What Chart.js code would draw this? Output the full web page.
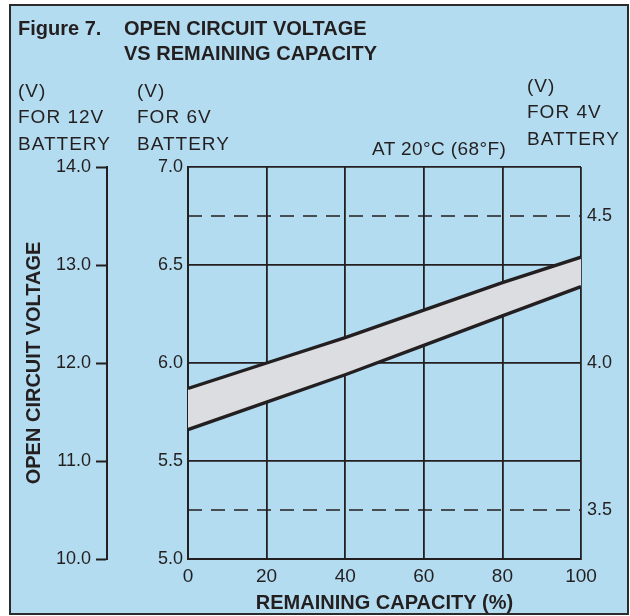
<!DOCTYPE html>
<html>
<head>
<meta charset="utf-8">
<script src="https://cdn.jsdelivr.net/npm/chart.js@4.4.0/dist/chart.umd.min.js"></script>
<style>
  body { margin: 0; background: #fff; }
  #frame {
    position: absolute; left: 9px; top: 4px; width: 620px; height: 611px;
    box-sizing: border-box; border: 2px solid #2b2b2b; background: #b3dcf0;
  }
  #chart { position: absolute; left: 0; top: 0; }
  .t {
    position: absolute; white-space: nowrap; color: #231f20;
    font-family: "Liberation Sans", Arial, sans-serif; line-height: 1;
  }
  .hd { font-size: 20px; font-weight: bold; }
  .lb { font-size: 19px; letter-spacing: 1px; }
</style>
</head>
<body>
<div id="frame"></div>
<canvas id="chart" width="630" height="616"></canvas>

<div class="t hd" style="left:18px; top:18px;">Figure 7.</div>
<div class="t hd" style="left:124px; top:18px;">OPEN CIRCUIT VOLTAGE</div>
<div class="t hd" style="left:124px; top:43px;">VS REMAINING CAPACITY</div>

<div class="t lb" style="left:18px; top:81px;">(V)</div>
<div class="t lb" style="left:18px; top:107px;">FOR 12V</div>
<div class="t lb" style="left:18px; top:134px;">BATTERY</div>

<div class="t lb" style="left:137px; top:81px;">(V)</div>
<div class="t lb" style="left:137px; top:107px;">FOR 6V</div>
<div class="t lb" style="left:137px; top:134px;">BATTERY</div>

<div class="t lb" style="left:527px; top:76px;">(V)</div>
<div class="t lb" style="left:527px; top:102px;">FOR 4V</div>
<div class="t lb" style="left:527px; top:129px;">BATTERY</div>

<div class="t lb" style="left:372px; top:139px; letter-spacing:0.4px;">AT 20°C (68°F)</div>

<script>
// ---- data ----
const CAPACITY  = [0, 20, 40, 60, 80, 100];              // remaining capacity (%)
const UPPER_6V  = [5.87, 6.00, 6.13, 6.27, 6.41, 6.54];  // upper edge of band (6V battery)
const LOWER_6V  = [5.66, 5.80, 5.94, 6.09, 6.24, 6.39];  // lower edge of band
const DASH_4V   = [4.5, 3.5];                            // dashed reference levels, 4V scale

const X_TICKS   = [0, 20, 40, 60, 80, 100];
const Y6_TICKS  = [5.0, 5.5, 6.0, 6.5, 7.0];
const Y12_TICKS = [10, 11, 12, 13, 14];
const Y4_TICKS  = [3.5, 4.0, 4.5];

// ---- style ----
const INK  = '#231f20';
const BAND = '#dcdde0';
const FONT = '"Liberation Sans", Arial, sans-serif';

const setTicks = list => scale => { scale.ticks = list.map(v => ({ value: v })); };
const oneDec = v => Number(v).toFixed(1);

const series = ys => CAPACITY.map((x, i) => ({ x: x, y: ys[i] }));
const flat = y => [{ x: X_TICKS[0], y: y }, { x: X_TICKS[X_TICKS.length - 1], y: y }];

// band: lower edge fills up to the upper edge, then both edges are stroked on top
const datasets = [
  { data: series(UPPER_6V), yAxisID: 'y', borderColor: INK, borderWidth: 3.4,
    fill: false, pointRadius: 0 },
  { data: series(LOWER_6V), yAxisID: 'y', borderColor: INK, borderWidth: 3.4,
    fill: '-1', backgroundColor: BAND, pointRadius: 0 }
];
DASH_4V.forEach(v => datasets.push({
  data: flat(v), yAxisID: 'y4', borderColor: INK, borderWidth: 1.6,
  borderDash: [14, 9], fill: false, pointRadius: 0
}));

new Chart(document.getElementById('chart'), {
  type: 'line',
  data: { datasets: datasets },
  options: {
    responsive: false,
    animation: false,
    layout: { padding: { top: 167, left: 0, right: 0, bottom: 0 } },
    plugins: { legend: { display: false }, tooltip: { enabled: false } },
    scales: {
      x: {
        type: 'linear', min: 0, max: 100,
        afterBuildTicks: setTicks(X_TICKS),
        afterFit: s => { s.height = 57; },
        grid: { color: INK, lineWidth: 1.8, drawTicks: false },
        border: { color: INK, width: 2 },
        ticks: { color: INK, font: { size: 19, family: FONT }, padding: 6, maxRotation: 0 },
        title: {
          display: true, text: 'REMAINING CAPACITY (%)', color: INK,
          font: { size: 20, weight: 'bold', family: FONT }, padding: { top: 0, bottom: 1 }
        }
      },
      y: {
        position: 'left', weight: 0, min: 5, max: 7,
        afterBuildTicks: setTicks(Y6_TICKS),
        afterFit: s => { s.width = 81; },
        grid: { color: INK, lineWidth: 1.8, drawTicks: false },
        border: { color: INK, width: 2 },
        ticks: { color: INK, font: { size: 18, family: FONT }, padding: 5, callback: oneDec }
      },
      y12: {
        position: 'left', weight: 1, min: 10, max: 14,
        afterBuildTicks: setTicks(Y12_TICKS),
        afterFit: s => { s.width = 107; },
        grid: { drawOnChartArea: false, drawTicks: true, tickLength: 11, tickWidth: 2, tickColor: INK },
        border: { color: INK, width: 2 },
        ticks: { color: INK, font: { size: 18, family: FONT }, padding: 5, callback: oneDec },
        title: {
          display: true, text: 'OPEN CIRCUIT VOLTAGE', color: INK,
          font: { size: 20, weight: 'bold', family: FONT }, padding: { top: 22, bottom: 0 }
        }
      },
      y4: {
        position: 'right', min: 5 / 1.5, max: 7 / 1.5,
        afterBuildTicks: setTicks(Y4_TICKS),
        afterFit: s => { s.width = 49; },
        grid: { drawOnChartArea: false, drawTicks: false },
        border: { display: false },
        ticks: { color: INK, font: { size: 18, family: FONT }, padding: 6, callback: oneDec }
      }
    }
  }
});
</script>
</body>
</html>
